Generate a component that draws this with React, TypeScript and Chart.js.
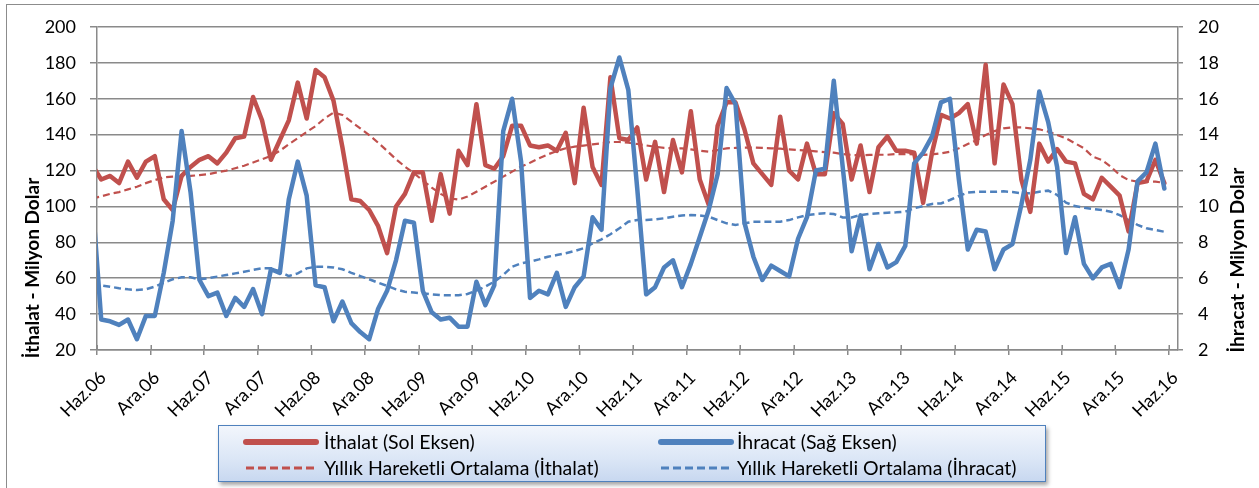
import React, { useEffect, useRef } from 'react';
import { Chart, registerables } from 'chart.js';

Chart.register(...registerables);

// Tick labels every 6 months (Haz = June, Ara = December)
const tickLabels = [
  'Haz.06', 'Ara.06', 'Haz.07', 'Ara.07', 'Haz.08', 'Ara.08', 'Haz.09', 'Ara.09',
  'Haz.10', 'Ara.10', 'Haz.11', 'Ara.11', 'Haz.12', 'Ara.12', 'Haz.13', 'Ara.13',
  'Haz.14', 'Ara.14', 'Haz.15', 'Ara.15', 'Haz.16',
];

// Monthly data, May 2006 ... May 2016 (points sit mid-month; axis starts 1 June 2006)
const ithalat = [
  123,
  115, 117, 113, 125, 116, 125, 128, 104, 98, 117, 122, 126, 128, 124, 130, 138, 139, 161,
  148, 126, 137, 148, 169, 149, 176, 172, 159, 133, 104, 103, 98, 89, 74, 100, 107, 119,
  119, 92, 118, 96, 131, 123, 157, 123, 121, 128, 145, 145, 134, 133, 134, 131, 141, 113,
  155, 122, 112, 172, 138, 137, 144, 115, 136, 108, 137, 119, 153, 115, 101, 145, 158,
  158, 143, 124, 118, 112, 150, 120, 115, 135, 118, 118, 152, 146, 115, 134, 108, 133, 139,
  131, 131, 130, 102, 130, 151, 149, 152, 157, 135, 179, 124, 168, 157, 115, 97, 135, 125,
  132, 125, 124, 107, 104, 116, 111, 106, 86, 113, 114, 126, 113,
];

const ihracat = [
  10.5,
  3.7, 3.6, 3.4, 3.7, 2.6, 3.9, 3.9, 6.3, 9.2, 14.2, 10.8, 5.9, 5.0, 5.2, 3.9, 4.9, 4.4, 5.4,
  4.0, 6.5, 6.3, 10.4, 12.5, 10.6, 5.6, 5.5, 3.6, 4.7, 3.5, 3.0, 2.6, 4.3, 5.3, 7.0, 9.2, 9.1,
  5.3, 4.1, 3.7, 3.8, 3.3, 3.3, 5.8, 4.5, 5.6, 14.2, 16.0, 12.5, 4.9, 5.3, 5.1, 6.3, 4.4, 5.5,
  6.1, 9.4, 8.7, 16.6, 18.3, 16.5, 11.0, 5.1, 5.5, 6.6, 7.0, 5.5, 6.8, 8.3, 9.8, 11.8, 16.6,
  15.7, 9.1, 7.2, 5.9, 6.7, 6.4, 6.1, 8.2, 9.4, 12.0, 12.1, 17.0, 12.2, 7.5, 9.5, 6.5, 7.9, 6.6,
  6.9, 7.8, 12.4, 13.0, 13.9, 15.8, 16.0, 11.5, 7.6, 8.7, 8.6, 6.5, 7.6, 7.9, 10.1, 12.6, 16.4, 14.7,
  12.2, 7.4, 9.4, 6.8, 6.0, 6.6, 6.8, 5.5, 7.6, 11.4, 11.9, 13.5, 11.0,
];

const ithalatOrt = [
  104.5,
  105.6, 107, 108, 109.5, 111, 113, 114.7, 116.2, 116.6, 116.8, 117, 117.5, 118, 119, 120, 121.3,
  122.7, 124.5, 126.3, 128.2, 131, 134.7, 138, 141.5, 144.8, 149, 152.3, 151, 147.2, 143.5, 139.8,
  135.5, 131, 126.3, 122.2, 118.5,
  114.5, 110.5, 107, 104.5, 103.8, 105.5, 108.2, 111, 113.8, 116.6, 119.4, 122.2, 124.4, 126.8,
  129, 130.9, 132.4, 133.3, 133.9, 134.6, 135.2, 135.9, 135.9, 135.5, 134.8, 134, 133.3, 132.6,
  132.4, 132.4, 131.8, 131.1, 130.5, 131.4, 132.4,
  132.6, 132.8, 132.8, 132.6, 132.4, 132.2, 131.8, 131.4, 131.1, 130.7, 130.3, 130, 129.2, 128.7,
  128.5, 128.7, 128.8, 128.8, 129.2, 129.2, 129, 128.7, 129, 129.6, 130.5, 132.4, 134.8, 137,
  139.8, 142, 143.5, 144.1, 144.1, 143.5, 143, 141.7,
  139.8, 138, 135.2, 132.4, 127.7, 125.9, 122.2, 117.5, 114.7, 113.8, 113.8, 113.8, 113.2,
];

const ihracatOrt = [
  5.65,
  5.6, 5.53, 5.44, 5.38, 5.34, 5.38, 5.53, 5.75, 5.94, 6.05, 6.05, 5.94, 6.0, 6.09, 6.18, 6.27,
  6.36, 6.46, 6.55, 6.55, 6.36, 6.12, 6.27, 6.55, 6.64, 6.64, 6.6, 6.5, 6.3, 6.12, 5.94, 5.75,
  5.57, 5.38, 5.25, 5.2,
  5.16, 5.1, 5.06, 5.05, 5.05, 5.12, 5.31, 5.53, 5.81, 6.18, 6.64, 6.83, 6.92, 7.05, 7.2, 7.29,
  7.39, 7.52, 7.67, 7.94, 8.17, 8.45, 8.78, 9.15, 9.24, 9.24, 9.28, 9.34, 9.43, 9.5, 9.52, 9.5,
  9.43, 9.24, 9.06,
  8.97, 9.06, 9.15, 9.15, 9.15, 9.15, 9.24, 9.39, 9.52, 9.58, 9.62, 9.58, 9.39, 9.39, 9.52, 9.58,
  9.62, 9.65, 9.67, 9.71, 9.9, 10.02, 10.14, 10.17, 10.36, 10.58, 10.77, 10.82, 10.82, 10.82,
  10.84, 10.8, 10.73, 10.73, 10.82, 10.88,
  10.64, 10.21, 10.02, 9.93, 9.86, 9.8, 9.71, 9.52, 9.24, 8.97, 8.78, 8.69, 8.59,
];

const leftTitle = 'İthalat - Milyon Dolar';
const rightTitle = 'İhracat - Milyon Dolar';

const RED = '#C0504D';
const BLUE = '#4F81BD';
const GRID = '#8a8a8a';
const FONT = 'Lato, "Open Sans", sans-serif';

const legendItems = [
  { label: 'İthalat (Sol Eksen)', color: RED, dashed: false, left: 27, top: 16, textLeft: 105 },
  { label: 'İhracat (Sağ Eksen)', color: BLUE, dashed: false, left: 442, top: 16, textLeft: 518 },
  { label: 'Yıllık Hareketli Ortalama (İthalat)', color: RED, dashed: true, left: 27, top: 42, textLeft: 105 },
  { label: 'Yıllık Hareketli Ortalama (İhracat)', color: BLUE, dashed: true, left: 442, top: 42, textLeft: 518 },
];

// point k (0 = May 2006) lies mid-month: x in months from 1 June 2006
const toPoints = (arr: number[]) => arr.map((v, k) => ({ x: k - 1 + 0.47, y: v }));

const axisDecorPlugin = {
  id: 'axisDecor',
  afterDraw(chart: any) {
    const ctx = chart.ctx;
    // x tick marks crossing the axis (inner half)
    const xs = chart.scales.x;
    const bottom = chart.chartArea.bottom;
    ctx.save();
    ctx.strokeStyle = GRID;
    ctx.lineWidth = 1.5;
    ctx.beginPath();
    xs.ticks.forEach((t: any) => {
      const px = Math.round(xs.getPixelForValue(t.value)) + 0.25;
      ctx.moveTo(px, bottom - 5);
      ctx.lineTo(px, bottom);
    });
    ctx.stroke();
    ctx.restore();

    // axis titles
    ctx.save();
    ctx.fillStyle = '#000';
    ctx.font = `bold 19px ${FONT}`;
    ctx.textAlign = 'center';
    ctx.textBaseline = 'middle';
    ctx.translate(33, 268);
    ctx.rotate(-Math.PI / 2);
    ctx.fillText(leftTitle, 0, 0);
    ctx.restore();
    ctx.save();
    ctx.fillStyle = '#000';
    ctx.font = `bold 19px ${FONT}`;
    ctx.textAlign = 'center';
    ctx.textBaseline = 'middle';
    ctx.translate(1238, 260);
    ctx.rotate(-Math.PI / 2);
    ctx.fillText(rightTitle, 0, 0);
    ctx.restore();
  },
};

export default function App() {
  const canvasRef = useRef<HTMLCanvasElement>(null);

  useEffect(() => {
    const canvas = canvasRef.current;
    if (!canvas) return;
    const chart = new Chart(canvas, {
      type: 'line',
      data: {
        datasets: [
          {
            label: 'İhracat (Sağ Eksen)',
            data: toPoints(ihracat),
            yAxisID: 'y1',
            borderColor: BLUE,
            borderWidth: 4.5,
            borderJoinStyle: 'round',
            borderCapStyle: 'round',
            pointRadius: 0,
            tension: 0,
            clip: 0,
          },
          {
            label: 'İthalat (Sol Eksen)',
            data: toPoints(ithalat),
            yAxisID: 'y',
            borderColor: RED,
            borderWidth: 4.5,
            borderJoinStyle: 'round',
            borderCapStyle: 'round',
            pointRadius: 0,
            tension: 0,
            clip: 0,
          },
          {
            label: 'Yıllık Hareketli Ortalama (İhracat)',
            data: toPoints(ihracatOrt),
            yAxisID: 'y1',
            borderColor: BLUE,
            borderWidth: 2.5,
            borderDash: [7, 4],
            pointRadius: 0,
            tension: 0,
            clip: 0,
          },
          {
            label: 'Yıllık Hareketli Ortalama (İthalat)',
            data: toPoints(ithalatOrt),
            yAxisID: 'y',
            borderColor: RED,
            borderWidth: 2.2,
            borderDash: [7, 4],
            pointRadius: 0,
            tension: 0,
            clip: 0,
          },
        ],
      },
      options: {
        responsive: false,
        animation: false,
        events: [],
        layout: { padding: { top: 27, left: 0, right: 0, bottom: 0 } },
        plugins: { legend: { display: false }, tooltip: { enabled: false } },
        scales: {
          x: {
            type: 'linear',
            position: 'bottom',
            min: 0,
            max: 121,
            afterBuildTicks: (s: any) => {
              s.ticks = tickLabels.map((_, i) => ({ value: i * 6 }));
            },
            afterFit: (s: any) => {
              s.height = 138;
            },
            ticks: {
              autoSkip: false,
              maxRotation: 45,
              minRotation: 45,
              padding: 12,
              labelOffset: 6,
              color: '#000',
              font: { family: FONT, size: 18 },
              callback: (_v: any, i: number) => tickLabels[i],
            },
            grid: { drawOnChartArea: false, drawTicks: true, tickLength: 5, color: GRID, lineWidth: 1.5 },
            border: { display: true, color: GRID, width: 1.5 },
          },
          y: {
            position: 'left',
            min: 20,
            max: 200,
            afterFit: (s: any) => {
              s.width = 97;
            },
            ticks: { stepSize: 20, padding: 14, color: '#000', font: { family: FONT, size: 18 } },
            grid: { color: GRID, lineWidth: 1.5, tickLength: 7 },
            border: { display: true, color: GRID, width: 1.5 },
          },
          y1: {
            position: 'right',
            min: 2,
            max: 20,
            afterFit: (s: any) => {
              s.width = 81;
            },
            ticks: { stepSize: 2, padding: 15, color: '#000', font: { family: FONT, size: 18 } },
            grid: { drawOnChartArea: false, color: GRID, lineWidth: 1.5, tickLength: 5 },
            border: { display: true, color: GRID, width: 1.5 },
          },
        },
      },
      plugins: [axisDecorPlugin],
    } as any);
    return () => chart.destroy();
  }, []);

  return (
    <div style={{ position: 'absolute', left: 0, top: 0, width: 1259, height: 488, overflow: 'hidden', background: '#fff' }}>
      <div
        style={{
          position: 'absolute',
          left: 6,
          top: 4,
          width: 2000,
          height: 2000,
          border: '1.5px solid #8c8c8c',
        }}
      />
      <canvas ref={canvasRef} width={1259} height={488} style={{ position: 'absolute', left: 0, top: 0, width: 1259, height: 488 }} />
      <div
        style={{
          position: 'absolute',
          left: 218,
          top: 425,
          width: 826,
          height: 55,
          border: '1.5px solid #4f81bd',
          background: 'linear-gradient(to bottom, #f2f6fc 0%, #dbe6f6 60%, #c8d8f0 100%)',
          boxShadow: '2px 3px 4px rgba(0,0,0,0.35)',
          fontFamily: FONT,
          fontSize: 19.5,
          color: '#000',
        }}
      >
        {legendItems.map((it) => (
          <React.Fragment key={it.label}>
            <svg
              width={76}
              height={10}
              style={{ position: 'absolute', left: it.left - 3, top: it.top - 5 }}
            >
              <line
                x1={3}
                y1={5}
                x2={73}
                y2={5}
                stroke={it.color}
                strokeWidth={it.dashed ? 3 : 6}
                strokeLinecap={it.dashed ? 'butt' : 'round'}
                strokeDasharray={it.dashed ? '8 4' : undefined}
              />
            </svg>
            <span
              style={{
                position: 'absolute',
                left: it.textLeft,
                top: it.top - 13,
                lineHeight: '26px',
                whiteSpace: 'nowrap',
              }}
            >
              {it.label}
            </span>
          </React.Fragment>
        ))}
      </div>
    </div>
  );
}
